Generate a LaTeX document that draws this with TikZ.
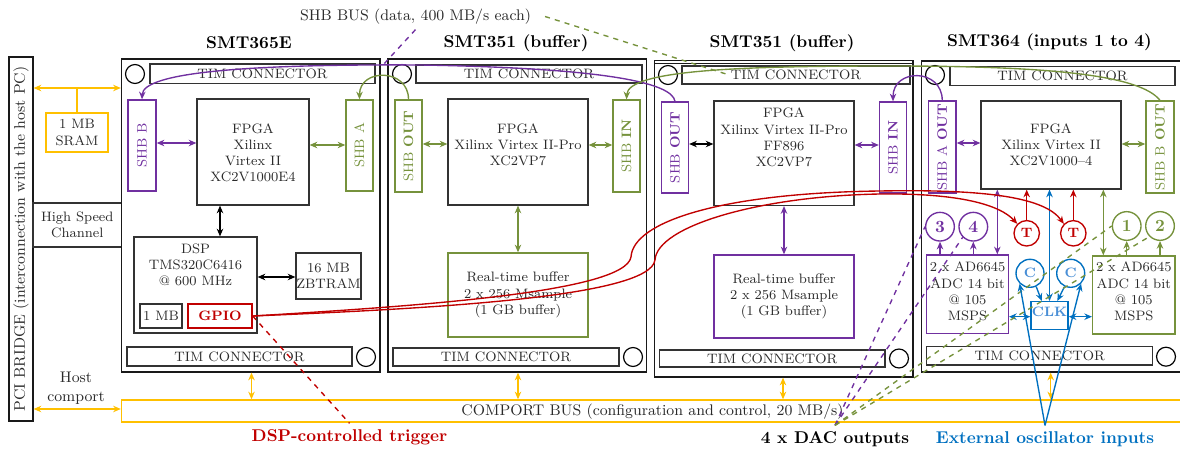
\documentclass[tikz,border=0pt]{standalone}
\usetikzlibrary{arrows.meta,fit}
\definecolor{purp}{HTML}{7030A0}
\definecolor{grn}{HTML}{76923C}
\definecolor{rd}{HTML}{C00000}
\definecolor{ylw}{HTML}{FFC000}
\definecolor{blu}{HTML}{0070C0}
\definecolor{lblu}{HTML}{4A8FD6}
\definecolor{ink}{HTML}{2A2A2A}
\begin{document}
\begin{tikzpicture}[x=0.586pt,y=-0.586pt,
 >={Stealth[length=4.5pt,width=3.8pt]},
 board/.style={draw=black!90,line width=0.8pt,inner sep=0pt},
 bx/.style={draw=black!80,line width=0.7pt,inner sep=0pt},
 pbx/.style={draw=purp,line width=0.8pt,inner sep=0pt},
 gbx/.style={draw=grn,line width=0.8pt,inner sep=0pt},
 ybx/.style={draw=ylw,line width=0.8pt,inner sep=0pt},
 rbx/.style={draw=rd,line width=0.8pt,inner sep=0pt},
 cbx/.style={draw=blu,line width=0.8pt,inner sep=0pt},
 txt/.style={font=\footnotesize,align=center,text=ink,inner sep=0pt},
 ttl/.style={font=\bfseries,inner sep=0pt},
 hole/.style={circle,draw=black,line width=0.7pt,minimum size=11.1pt,inner sep=0pt},
 pcirc/.style={circle,draw=purp,line width=0.8pt,minimum size=16.8pt,inner sep=0pt,text=purp,font=\bfseries},
 gcirc/.style={circle,draw=grn,line width=0.8pt,minimum size=16.8pt,inner sep=0pt,text=grn,font=\bfseries},
 tcirc/.style={circle,draw=rd,line width=0.8pt,minimum size=14.9pt,inner sep=0pt,text=rd,font=\footnotesize\bfseries},
 ccirc/.style={circle,draw=blu,line width=0.8pt,minimum size=16.4pt,inner sep=0pt,text=lblu,font=\footnotesize\bfseries},
 pa/.style={draw=purp,line width=0.8pt,<->},
 p1/.style={draw=purp,line width=0.8pt,->},
 ga/.style={draw=grn,line width=0.8pt,<->},
 g1/.style={draw=grn,line width=0.8pt,->},
 ka/.style={draw=black,line width=0.8pt,<->},
 r1/.style={draw=rd,line width=0.8pt,->},
 ca/.style={draw=blu,line width=0.8pt,<->},
 c1/.style={draw=blu,line width=0.8pt,->},
 ya/.style={draw=ylw,line width=0.8pt,<->},
 yl/.style={draw=ylw,line width=0.8pt},
 pd/.style={draw=purp,line width=0.8pt,dashed},
 gd/.style={draw=grn,line width=0.8pt,dashed},
 rdd/.style={draw=rd,line width=0.8pt,dashed}
]
\clip (0,0) rectangle (1180,450);

% ---------- PCI bridge & left side ----------
\node[bx,draw=black!90,fit={(9,57) (33,421)}] (pci) {};
\node[txt,font=\small,rotate=90] (pcit) at (pci.center) {PCI BRIDGE (interconnection with the host PC)};
\node[bx,fit={(33,203) (121.5,247)}] (hsc) {};
\node[txt] (hsct) at (hsc.center) {High Speed\\Channel};
\node[ybx,fit={(46,113) (108,152)}] (sram) {};
\node[txt] (sramt) at (sram.center) {1 MB\\SRAM};
\node[txt,font=\small] (hostt) at (76,388.5) {Host\\comport};
\node[ybx,fit={(121.5,400) (1195,422)}] (cbus) {};
\node[txt,font=\small] (cbust) at (652.5,411.5) {COMPORT BUS (configuration and control, 20 MB/s)};

% ---------- Board 1 ----------
\node[board,fit={(121.5,59) (380,372)}] (b1) {};
\node[ttl] (t1) at (249,43) {SMT365E};
\node[hole] (h1a) at (135,74) {};
\node[bx,fit={(150,64) (375,83.5)}] (tim1a) {};
\node[txt] (tim1at) at (tim1a.center) {TIM CONNECTOR};
\node[pbx,fit={(128,100) (156,191)}] (shbb1) {};
\node[txt,rotate=90,text=purp] (shbb1t) at (shbb1.center) {SHB B};
\node[bx,fit={(197,99) (309,205)}] (fpga1) {};
\node[txt] (fpga1t) at (253,152.8) {FPGA\\Xilinx\\Virtex II\\XC2V1000E4};
\node[gbx,fit={(346,100) (373,191)}] (shba1) {};
\node[txt,rotate=90,text=grn] (shba1t) at (shba1.center) {SHB A};
\node[bx,fit={(134,237) (257,333)}] (dsp) {};
\node[txt] (dspt) at (195.5,265) {DSP\\TMS320C6416\\@ 600 MHz};
\node[bx,fit={(140,304) (182,328)}] (mb1) {};
\node[txt] (mb1t) at (mb1.center) {1 MB};
\node[rbx,fit={(188,304) (252,328)}] (gpio) {};
\node[txt,text=rd,font=\footnotesize\bfseries] (gpiot) at (gpio.center) {GPIO};
\node[bx,fit={(296,253) (361,299)}] (zbt) {};
\node[txt] (zbtt) at (zbt.center) {16 MB\\ZBTRAM};
\node[bx,fit={(127,347) (352,366)}] (tim1b) {};
\node[txt] (tim1bt) at (tim1b.center) {TIM CONNECTOR};
\node[hole] (h1b) at (366,357) {};

% ---------- Board 2 ----------
\node[board,fit={(388,59) (646.5,372)}] (b2) {};
\node[ttl] (t2) at (516,43) {SMT351 (buffer)};
\node[hole] (h2a) at (402,74) {};
\node[bx,fit={(416,65) (642,83)}] (tim2a) {};
\node[txt] (tim2at) at (tim2a.center) {TIM CONNECTOR};
\node[gbx,fit={(395,100) (422,192)}] (shbo2) {};
\node[txt,rotate=90,text=grn] (shbo2t) at (shbo2.center) {SHB \textbf{OUT}};
\node[bx,fit={(448,99) (588,205)}] (fpga2) {};
\node[txt] (fpga2t) at (518,144.5) {FPGA\\Xilinx Virtex II-Pro\\XC2VP7};
\node[gbx,fit={(613,100) (640,192)}] (shbi2) {};
\node[txt,rotate=90,text=grn] (shbi2t) at (shbi2.center) {SHB \textbf{IN}};
\node[gbx,fit={(448,253) (588,337)}] (buf2) {};
\node[txt] (buf2t) at (buf2.center) {Real-time buffer\\2 x 256 Msample\\(1 GB buffer)};
\node[bx,fit={(393,348) (619,366)}] (tim2b) {};
\node[txt] (tim2bt) at (tim2b.center) {TIM CONNECTOR};
\node[hole] (h2b) at (633,357) {};

% ---------- Board 3 ----------
\node[board,fit={(654.5,60.5) (913,377)}] (b3) {};
\draw[black!90,line width=0.8pt] (b3.west |- 0,63.5) -- (b3.east |- 0,63.5);
\node[ttl] (t3) at (782,43) {SMT351 (buffer)};
\node[hole] (h3a) at (668,75) {};
\node[bx,fit={(682,66) (910,84)}] (tim3a) {};
\node[txt] (tim3at) at (tim3a.center) {TIM CONNECTOR};
\node[pbx,fit={(661.5,102) (688.5,193)}] (shbo3) {};
\node[txt,rotate=90,text=purp] (shbo3t) at (shbo3.center) {SHB \textbf{OUT}};
\node[bx,fit={(714,101) (854,205.5)}] (fpga3) {};
\node[txt] (fpga3t) at (784,137.5) {FPGA\\Xilinx Virtex II-Pro\\FF896\\XC2VP7};
\node[pbx,fit={(879.5,102) (906.5,193)}] (shbi3) {};
\node[txt,rotate=90,text=purp] (shbi3t) at (shbi3.center) {SHB \textbf{IN}};
\node[pbx,fit={(714,255) (854,338)}] (buf3) {};
\node[txt] (buf3t) at (buf3.center) {Real-time buffer\\2 x 256 Msample\\(1 GB buffer)};
\node[bx,fit={(659.5,350) (885,367)}] (tim3b) {};
\node[txt] (tim3bt) at (tim3b.center) {TIM CONNECTOR};
\node[hole] (h3b) at (899,358.5) {};

% ---------- Board 4 ----------
\node[board,fit={(921.5,61) (1190,372)}] (b4) {};
\node[ttl] (t4) at (1049.5,42) {SMT364 (inputs 1 to 4)};
\node[hole] (h4a) at (935,75) {};
\node[bx,fit={(950,66.5) (1175,85.5)}] (tim4a) {};
\node[txt] (tim4at) at (tim4a.center) {TIM CONNECTOR};
\node[pbx,fit={(928.5,101) (956,193)}] (shba4) {};
\node[txt,rotate=90,text=purp] (shba4t) at (shba4.center) {SHB A \textbf{OUT}};
\node[bx,fit={(981,101) (1121,189)}] (fpga4) {};
\node[txt] (fpga4t) at (1051,145) {FPGA\\Xilinx Virtex II\\XC2V1000--4};
\node[gbx,fit={(1146,101) (1174,193)}] (shbb4) {};
\node[txt,rotate=90,text=grn] (shbb4t) at (shbb4.center) {SHB B \textbf{OUT}};
\node[pbx,fit={(926.7,255) (1008.3,333.3)}] (adcp) {};
\node[txt] (adcpt) at (967.5,291.5) {2 x AD6645\\ADC 14 bit\\@ 105\\MSPS};
\node[gbx,fit={(1092.7,256) (1175,334)}] (adcg) {};
\node[txt] (adcgt) at (1133.8,291.5) {2 x AD6645\\ADC 14 bit\\@ 105\\MSPS};
\node[pcirc] (n3) at (940,226.7) {3};
\node[pcirc] (n4) at (973.3,226.7) {4};
\node[gcirc] (n1) at (1126.7,226) {1};
\node[gcirc] (n2) at (1160,226) {2};
\node[tcirc] (tA) at (1026.7,233.3) {T};
\node[tcirc] (tB) at (1073.3,233.3) {T};
\node[ccirc] (cA) at (1030,273.3) {C};
\node[ccirc] (cB) at (1070.7,273.3) {C};
\node[cbx,fit={(1031,301.7) (1068,329.5)}] (clk) {};
\node[txt,text=lblu,font=\footnotesize\bfseries] (clkt) at (1049.5,311.7) {CLK};
\node[bx,fit={(926.7,346.7) (1152.7,365)}] (tim4b) {};
\node[txt] (tim4bt) at (tim4b.center) {TIM CONNECTOR};
\node[hole] (h4b) at (1166,356.7) {};

% ---------- bottom / top labels ----------
\node[ttl,text=rd,inner sep=0.333em] (trig) at (349.5,437) {DSP-controlled trigger};
\node[ttl,inner sep=0.333em] (dac) at (835,439) {4 x DAC outputs};
\node[ttl,text=blu,inner sep=0.333em] (osc) at (1045,439) {External oscillator inputs};
\node[txt,font=\small] (shbbus) at (415.5,16.5) {SHB BUS (data, 400 MB/s each)};
\coordinate (pbend) at (383,65);
\coordinate (gbend) at (726,74);
\coordinate (hy) at (77,88);

% ---------- yellow connections ----------
\draw[ya] (pci.east |- hy) -- (b1.west |- hy);
\draw[yl] (sram.north) -- (sram.north |- hy);
\draw[ya] (pci.east |- 0,409) -- (cbus.west |- 0,409);
\draw[ya] (b1.south -| 251.5,0) -- (cbus.north -| 251.5,0);
\draw[ya] (b2.south -| 518,0) -- (cbus.north -| 518,0);
\draw[ya] (b3.south -| 783,0) -- (cbus.north -| 783,0);
\draw[ya] (b4.south -| 1050.7,0) -- (cbus.north -| 1050.7,0);

% ---------- board 1 arrows ----------
\draw[pa] (shbb1.east |- 0,143) -- (fpga1.west |- 0,143);
\draw[ga] (fpga1.east |- 0,145) -- (shba1.west |- 0,145);
\draw[ka] (fpga1.south -| 220,0) -- (dsp.north -| 220,0);
\draw[ka] (dsp.east |- 0,277) -- (zbt.west |- 0,277);

% ---------- board 2 arrows ----------
\draw[ga] (shbo2.east |- 0,144) -- (fpga2.west |- 0,144);
\draw[ga] (fpga2.east |- 0,145) -- (shbi2.west |- 0,145);
\draw[ga] (fpga2.south) -- (buf2.north);

% ---------- board 3 arrows ----------
\draw[ka] (shbo3.east |- 0,144) -- (fpga3.west |- 0,144);
\draw[pa] (fpga3.east |- 0,145) -- (shbi3.west |- 0,145);
\draw[pa] (fpga3.south) -- (buf3.north);

% ---------- board 4 arrows ----------
\draw[pa] (shba4.east |- 0,143) -- (fpga4.west |- 0,143);
\draw[ga] (fpga4.east |- 0,144) -- (shbb4.west |- 0,144);
\draw[pa] (fpga4.south -| 997.3,0) -- (adcp.north -| 997.3,0);
\draw[p1] (adcp.north -| n3.south) -- (n3.south);
\draw[p1] (adcp.north -| n4.south) -- (n4.south);
\draw[r1] (tA.north) -- (fpga4.south -| tA.north);
\draw[r1] (tB.north) -- (fpga4.south -| tB.north);
\draw[ca] (clk.north) -- (fpga4.south -| clk.north);
\draw[c1] (cA.-65) -- (clk.north -| 1041.7,0);
\draw[c1] (cB.-115) -- (clk.north -| 1057.3,0);
\draw[ca] (adcp.east |- 0,316.7) -- (clk.west |- 0,316.7);
\draw[ca] (clk.east |- 0,316.7) -- (adcg.west |- 0,316.7);
\draw[ga] (fpga4.south -| 1103.3,0) -- (adcg.north -| 1103.3,0);
\draw[g1] (adcg.north -| n1.south) -- (n1.south);
\draw[g1] (adcg.north -| n2.south) -- (n2.south);

% ---------- SHB bus curves ----------
\draw[p1] (shbo3.north) .. controls (672,82) and (600,68) .. (420,65) .. controls (250,64) and (143,72) .. (shbb1.north);
\draw[g1] (shbo2.north) .. controls (408.5,68) and (359.5,68) .. (shba1.north);
\draw[g1] (shbb4.north) .. controls (1140,75) and (1050,66) .. (890,66) .. controls (740,66) and (628,70) .. (shbi2.north);
\draw[p1] (shba4.north) .. controls (942,68) and (893,68) .. (shbi3.north);
\draw[pd] ([yshift=-3pt]shbbus.south) -- (pbend);
\draw[gd] ([xshift=8pt]shbbus.east) -- (gbend);

% ---------- trigger lines ----------
\draw[r1] (gpio.east) .. controls (420,306) and (625,292) .. (631,257) .. controls (633,222) and (720,193) .. (880,191) .. controls (990,189) and (1045,198) .. (tB.north west);
\draw[r1] (gpio.east) .. controls (420,309) and (650,298) .. (655,260) .. controls (657,226) and (760,196) .. (880,194) .. controls (960,193) and (1000,205) .. (tA.north west);
\draw[rdd] (gpio.east) -- (trig.north);

% ---------- DAC outputs ----------
\draw[pd] (dac.north) -- (n3.west);
\draw[pd] (dac.north) -- (n4.south west);
\draw[gd] (dac.north) -- (n1.west);
\draw[gd] (dac.north) -- (n2.south west);

% ---------- oscillator inputs ----------
\draw[c1] (osc.north) -- (cA.south west);
\draw[c1] (osc.north) -- (cB.south east);
\end{tikzpicture}
\end{document}
